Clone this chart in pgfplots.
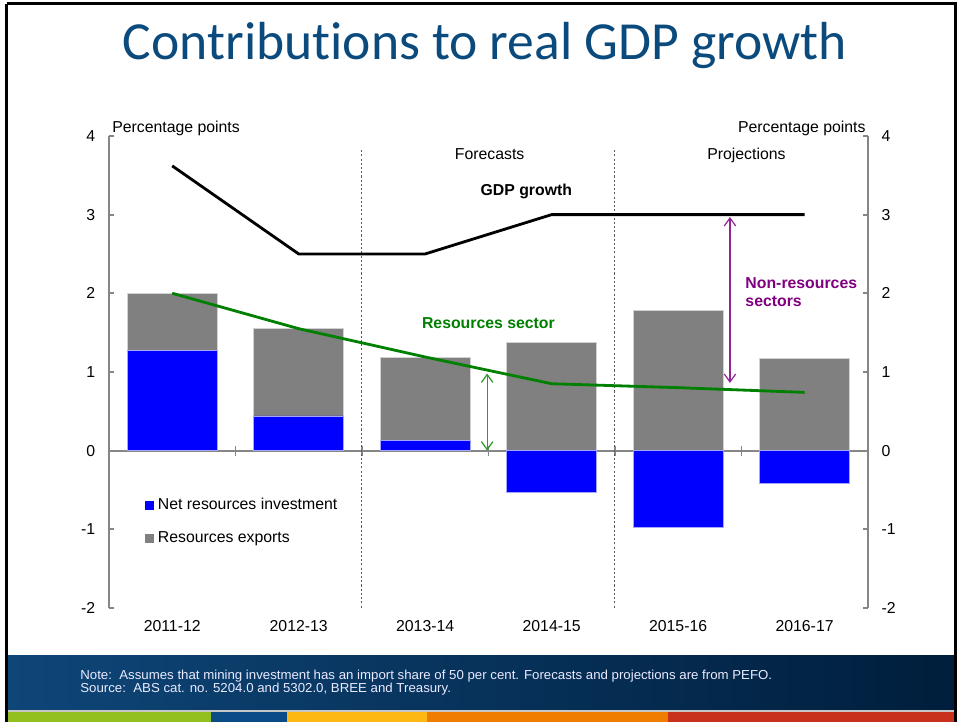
\documentclass[border=0pt]{standalone}
\usepackage{fontspec}
\setmainfont{Liberation Sans}
\newfontfamily\titlefont[Ligatures=NoCommon]{Carlito}
\usepackage{graphicx}
\usepackage{pgfplots}
\usepackage{pgfplotstable}
\pgfplotsset{compat=1.18}
\usetikzlibrary{arrows.meta}

\definecolor{titleblue}{HTML}{0B4A7C}
\definecolor{resblue}{HTML}{0000FF}
\definecolor{resgrey}{HTML}{808080}
\definecolor{resgreen}{HTML}{008000}
\definecolor{arrowgreen}{HTML}{2E9A2E}
\definecolor{nonres}{HTML}{800080}
\definecolor{axisgrey}{HTML}{868686}
\definecolor{bandleft}{HTML}{0E4678}
\definecolor{bandright}{HTML}{001E3C}
\definecolor{stripgreen}{HTML}{93C01F}
\definecolor{stripblue}{HTML}{0B4C86}
\definecolor{stripyellow}{HTML}{FDB813}
\definecolor{striporange}{HTML}{EE7D00}
\definecolor{stripred}{HTML}{C8321C}

% top = top of grey bar (resources exports stacked above positive investment)
\pgfplotstableread{
x  top   invest gdp  resources
0  2.00  1.27   3.62 2.00
1  1.55  0.44   2.50 1.55
2  1.18  0.13   2.50 1.19
3  1.38 -0.53   3.00 0.85
4  1.78 -0.97   3.00 0.80
5  1.17 -0.42   3.00 0.74
}\gdpdata

\begin{document}
\begin{tikzpicture}[font=\fontsize{9}{11}\selectfont]
% slide background, 1px = 0.02cm
\begin{scope}[x=0.02cm,y=-0.02cm]
  \useasboundingbox (0,0) rectangle (957,722);
  \fill[white] (0,0) rectangle (957,722);
  \shade[left color=bandleft,right color=bandright] (8,655) rectangle (957,710);
  \fill[gray!45] (8,710) rectangle (957,712);
  \fill[stripgreen]  (8,712)   rectangle (211,722);
  \fill[stripblue]   (211,712) rectangle (287,722);
  \fill[stripyellow] (287,712) rectangle (427,722);
  \fill[striporange] (427,712) rectangle (668,722);
  \fill[stripred]    (668,712) rectangle (957,722);
  \draw[black,line width=0.06cm] (6.5,4) -- (955.5,4) -- (955.5,730);
  \draw[black,line width=0.06cm] (6.5,4) -- (6.5,730);
  \node[font=\titlefont\fontsize{30.5}{36}\selectfont,text=titleblue] at (485,46)
    {Contributions to real GDP growth};
  \node[anchor=west,inner sep=0pt,text=white!92!blue] at (80,683.5)
    {\resizebox{13.84cm}{\height}{\fontsize{7.4}{7.4}\selectfont
      \begin{tabular}{@{}l@{}}
      Note:\ \ Assumes that mining investment has an import share of 50 per cent. Forecasts and projections are from PEFO.\\
      Source:\ \ ABS cat. no. 5204.0 and 5302.0, BREE and Treasury.
      \end{tabular}}};
\end{scope}

\begin{axis}[
  at={(2.18cm,-12.16cm)}, anchor=south west,
  scale only axis, width=15.18cm, height=9.44cm,
  xmin=-0.5, xmax=5.5, ymin=-2, ymax=4,
  clip=false,
  axis lines*=left,
  x axis line style={draw=none},
  y axis line style={axisgrey,line width=1.2pt},
  xtick={0,...,5},
  xticklabels={2011-12,2012-13,2013-14,2014-15,2015-16,2016-17},
  xtick style={draw=none},
  xticklabel style={anchor=north,inner sep=0pt,yshift=-0.24cm},
  ytick={-2,...,4}, yticklabels={-2,-1,0,1,2,3,4},
  ytick style={axisgrey,line width=1pt},
  tick align=inside, major tick length=0.1cm,
  yticklabel style={anchor=east,inner sep=0pt,xshift=-0.27cm},
  legend style={at={(0.0474,0.234)},anchor=north west,draw=none,fill=none,
    inner sep=0pt,row sep=0.36cm,column sep=0.08cm,
    nodes={inner sep=0pt,text height=0.23cm,text depth=0.07cm}},
  legend cell align=left,
]
  % zero line with small ticks at category boundaries
  \draw[axisgrey,line width=1.2pt] (axis cs:-0.5,0) -- (axis cs:5.5,0);
  \pgfplotsinvokeforeach{0.5,1.5,2.5,3.5,4.5}{
    \draw[axisgrey,line width=0.8pt] ([yshift=-0.1cm]axis cs:#1,0) -- ([yshift=0.1cm]axis cs:#1,0);
  }
  \draw[gray!70!black,line width=0.6pt,dash pattern=on 1.2pt off 1.2pt] (axis cs:1.5,3.82) -- (axis cs:1.5,-2);
  \draw[gray!70!black,line width=0.6pt,dash pattern=on 1.2pt off 1.2pt] (axis cs:3.5,3.82) -- (axis cs:3.5,-2);

  \addplot[ybar,bar width=1.8cm,bar shift=0pt,fill=resgrey,draw=gray!35,line width=0.4pt,forget plot]
    table[x=x,y=top]{\gdpdata};
  \addplot[ybar,bar width=1.8cm,bar shift=0pt,fill=resblue,draw=blue!35,line width=0.4pt,forget plot]
    table[x=x,y=invest]{\gdpdata};

  \addplot[black,line width=1.6pt,forget plot] table[x=x,y=gdp]{\gdpdata};
  \addplot[resgreen,line width=1.6pt,forget plot] table[x=x,y=resources]{\gdpdata};

  \addlegendimage{legend image code/.code={\fill[resblue] (0cm,-0.08cm) rectangle (0.16cm,0.08cm);}}
  \addlegendentry{Net resources investment}
  \addlegendimage{legend image code/.code={\fill[resgrey] (0cm,-0.08cm) rectangle (0.16cm,0.08cm);}}
  \addlegendentry{Resources exports}

  \draw[arrowgreen,line width=0.7pt,{Straight Barb[length=4.5pt,width=6.5pt]}-{Straight Barb[length=4.5pt,width=6.5pt]}]
    (axis cs:2.49,0) -- (axis cs:2.49,0.98);
  \draw[nonres!85!white,line width=0.7pt,{Straight Barb[length=4.5pt,width=6.5pt]}-{Straight Barb[length=4.5pt,width=6.5pt]}]
    (axis cs:4.41,2.97) -- (axis cs:4.41,0.86);

  \node[anchor=base] at (axis cs:2.51,3.70) {Forecasts};
  \node[anchor=base] at (axis cs:4.54,3.70) {Projections};
  \node[font=\fontsize{9}{11}\selectfont\bfseries] at (axis cs:2.80,3.30) {GDP growth};
  \node[font=\fontsize{9}{11}\selectfont\bfseries,text=resgreen] at (axis cs:2.50,1.625) {Resources sector};
  \node[font=\fontsize{9}{10.2}\selectfont\bfseries,text=nonres,align=left,anchor=west,inner sep=0pt]
    at (axis cs:4.53,2.01) {Non-resources\\sectors};
  \node[anchor=base west,inner sep=0pt] at ([xshift=0.06cm,yshift=0.07cm]rel axis cs:0,1) {Percentage points};
  \node[anchor=base east,inner sep=0pt] at ([xshift=-0.04cm,yshift=0.07cm]rel axis cs:1,1) {Percentage points};
\end{axis}

\begin{axis}[
  at={(2.18cm,-12.16cm)}, anchor=south west,
  scale only axis, width=15.18cm, height=9.44cm,
  xmin=-0.5, xmax=5.5, ymin=-2, ymax=4,
  axis y line*=right, axis x line=none, xtick=\empty,
  y axis line style={axisgrey,line width=1.2pt},
  ytick={-2,...,4}, yticklabels={-2,-1,0,1,2,3,4},
  ytick style={axisgrey,line width=1pt},
  tick align=inside, major tick length=0.1cm,
  yticklabel style={anchor=west,inner sep=0pt,xshift=0.27cm},
]
\end{axis}
\end{tikzpicture}
\end{document}
